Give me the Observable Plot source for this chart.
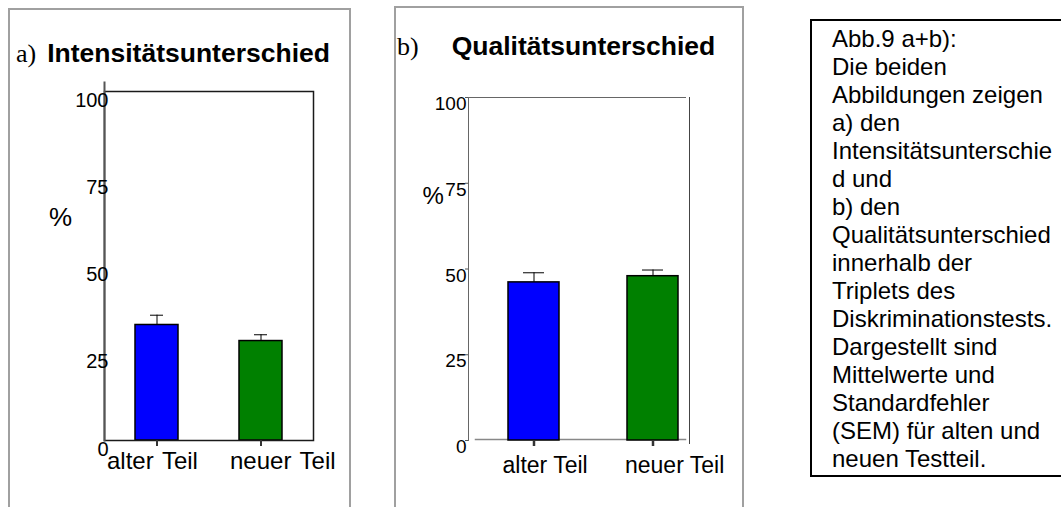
<!DOCTYPE html>
<html><head><meta charset="utf-8">
<script src="https://cdn.jsdelivr.net/npm/d3@7"></script>
<script src="https://cdn.jsdelivr.net/npm/@observablehq/plot@0.6"></script>
<style>
html,body{margin:0;padding:0;background:#fff;width:1061px;height:507px;overflow:hidden;font-family:"Liberation Sans",Arial,sans-serif;}
.abs{position:absolute;}
.panel{position:absolute;border:2px solid #a0a0a0;box-sizing:border-box;}
.title{position:absolute;font-size:26.5px;line-height:26px;white-space:nowrap;color:#000;}
.title .s{font-family:"Liberation Serif","Times New Roman",serif;font-weight:normal;font-size:26px;}
.title .b{font-family:"Liberation Sans",Arial,sans-serif;font-weight:bold;}
#caption{position:absolute;left:810px;top:19px;width:300px;height:458px;border:2px solid #000;border-right:none;box-sizing:border-box;overflow:hidden;padding:4px 0 0 20px;font-size:24px;line-height:28px;color:#000;}
#caption div{white-space:nowrap;}
#plotA svg text{word-spacing:2px;}
</style></head><body>
<div class="panel" style="left:8px;top:8px;width:343px;height:520px;"></div>
<div class="panel" style="left:394px;top:6px;width:350px;height:520px;"></div>
<div class="title" style="left:16px;top:40px;"><span class="s">a)</span><span class="b" style="margin-left:11px;">Intensitätsunterschied</span></div>
<div class="title" style="left:397px;top:33px;"><span class="s">b)</span><span class="b" style="margin-left:33px;">Qualitätsunterschied</span></div>
<div id="plotA" class="abs" style="left:0;top:0;"></div>
<div id="plotB" class="abs" style="left:360px;top:0;"></div>
<div id="caption"></div>
<script>
const categories = ["alter Teil", "neuer Teil"];
const intensityMean = [33.1, 28.5];
const intensitySem = [2.8, 1.8];
const qualityMean = [46.1, 47.9];
const qualitySem = [2.8, 1.8];
const yTicks = [0, 25, 50, 75, 100];
const barColors = ["#0000ff", "#008000"];
const captionLines = [
  "Abb.9 a+b):", "Die beiden", "Abbildungen zeigen", "a) den", "Intensitätsunterschie", "d und",
  "b) den", "Qualitätsunterschied", "innerhalb der", "Triplets des", "Diskriminationstests.",
  "Dargestellt sind", "Mittelwerte und", "Standardfehler", "(SEM) für alten und", "neuen Testteil."
];

const rows = (means, sems) => categories.map((c, i) => ({cat: c, mean: means[i], top: means[i] + sems[i], color: barColors[i]}));
const font = '"Liberation Sans", Arial, sans-serif';
const style = {fontFamily: font, color: "#000", background: "transparent", overflow: "visible"};

const dataA = rows(intensityMean, intensitySem);
const plotA = Plot.plot({
  width: 360, height: 507,
  marginLeft: 104, marginRight: 47, marginTop: 91, marginBottom: 67,
  style,
  color: {type: "identity"},
  x: {domain: categories, range: [135, 282], paddingInner: 0.587, paddingOuter: 0, axis: null},
  y: {domain: [0, 100], axis: null},
  marks: [
    Plot.barY(dataA, {x: "cat", y: "mean", fill: "color", stroke: "#000", strokeWidth: 1.5}),
    Plot.ruleX(dataA, {x: "cat", y1: "mean", y2: "top", stroke: "#000", strokeWidth: 1}),
    Plot.tickY(dataA, {x: "cat", y: "top", stroke: "#000", strokeWidth: 1, insetLeft: 15, insetRight: 15}),
    Plot.frame({stroke: "#1a1a1a", strokeWidth: 1.5}),
    Plot.frame({anchor: "left", insetTop: -9, stroke: "#555", strokeWidth: 2}),
    Plot.axisX({tickSize: 6, strokeWidth: 2, stroke: "#333", tickFormat: () => "", label: null}),
    Plot.text(yTicks, {y: d => d, text: d => String(d), frameAnchor: "left", textAnchor: "end", lineAnchor: "top", dx: 4, dy: 1, fontSize: 20}),
    Plot.text(dataA.filter(d => d.cat === "alter Teil"), {x: "cat", text: "cat", frameAnchor: "bottom", textAnchor: "start", lineAnchor: "bottom", dx: -50, dy: 28, fontSize: 24}),
    Plot.text(dataA.filter(d => d.cat === "neuer Teil"), {x: "cat", text: "cat", frameAnchor: "bottom", textAnchor: "start", lineAnchor: "bottom", dx: -31, dy: 28, fontSize: 24}),
    Plot.text(["%"], {text: d => d, frameAnchor: "left", dx: -55.5, dy: -48, fontSize: 26})
  ]
});
document.getElementById("plotA").appendChild(plotA);

const dataB = rows(qualityMean, qualitySem);
const plotB = Plot.plot({
  width: 400, height: 507,
  marginLeft: 108, marginRight: 71, marginTop: 97, marginBottom: 67,
  style,
  color: {type: "identity"},
  x: {domain: categories, range: [148, 319], paddingInner: 0.569, paddingOuter: 0, axis: null},
  y: {domain: [0, 100], axis: null},
  marks: [
    Plot.frame({anchor: "left", stroke: "#666", strokeWidth: 1}),
    Plot.frame({anchor: "top", insetRight: 4, stroke: "#666", strokeWidth: 1}),
    Plot.frame({anchor: "right", insetBottom: -3, stroke: "#444", strokeWidth: 1}),
    Plot.frame({anchor: "bottom", insetLeft: 7, insetRight: 4, insetBottom: 1, stroke: "#888", strokeWidth: 1.5}),
    Plot.barY(dataB, {x: "cat", y: "mean", fill: "color", stroke: "#000", strokeWidth: 1.5}),
    Plot.ruleX(dataB, {x: "cat", y1: "mean", y2: "top", stroke: "#000", strokeWidth: 1}),
    Plot.tickY(dataB, {x: "cat", y: "top", stroke: "#000", strokeWidth: 1, insetLeft: 15, insetRight: 15}),
    Plot.axisY({ticks: yTicks, tickSize: 3, stroke: "#555", tickFormat: () => "", label: null}),
    Plot.axisX({tickSize: 6, strokeWidth: 2.5, stroke: "#333", tickFormat: () => "", label: null}),
    Plot.text(yTicks, {y: d => d, text: d => String(d), frameAnchor: "left", textAnchor: "end", lineAnchor: "top", dx: -2, dy: -1, fontSize: 19}),
    Plot.text(dataB.filter(d => d.cat === "alter Teil"), {x: "cat", text: "cat", frameAnchor: "bottom", textAnchor: "start", lineAnchor: "bottom", dx: -31.5, dy: 32, fontSize: 23}),
    Plot.text(dataB.filter(d => d.cat === "neuer Teil"), {x: "cat", text: "cat", frameAnchor: "bottom", textAnchor: "start", lineAnchor: "bottom", dx: -28, dy: 32, fontSize: 23}),
    Plot.text(["%"], {text: d => d, frameAnchor: "left", dx: -46, dy: -73, fontSize: 24})
  ]
});
document.getElementById("plotB").appendChild(plotB);

const cap = document.getElementById("caption");
captionLines.forEach(t => { const d = document.createElement("div"); d.textContent = t; cap.appendChild(d); });
</script>
</body></html>
